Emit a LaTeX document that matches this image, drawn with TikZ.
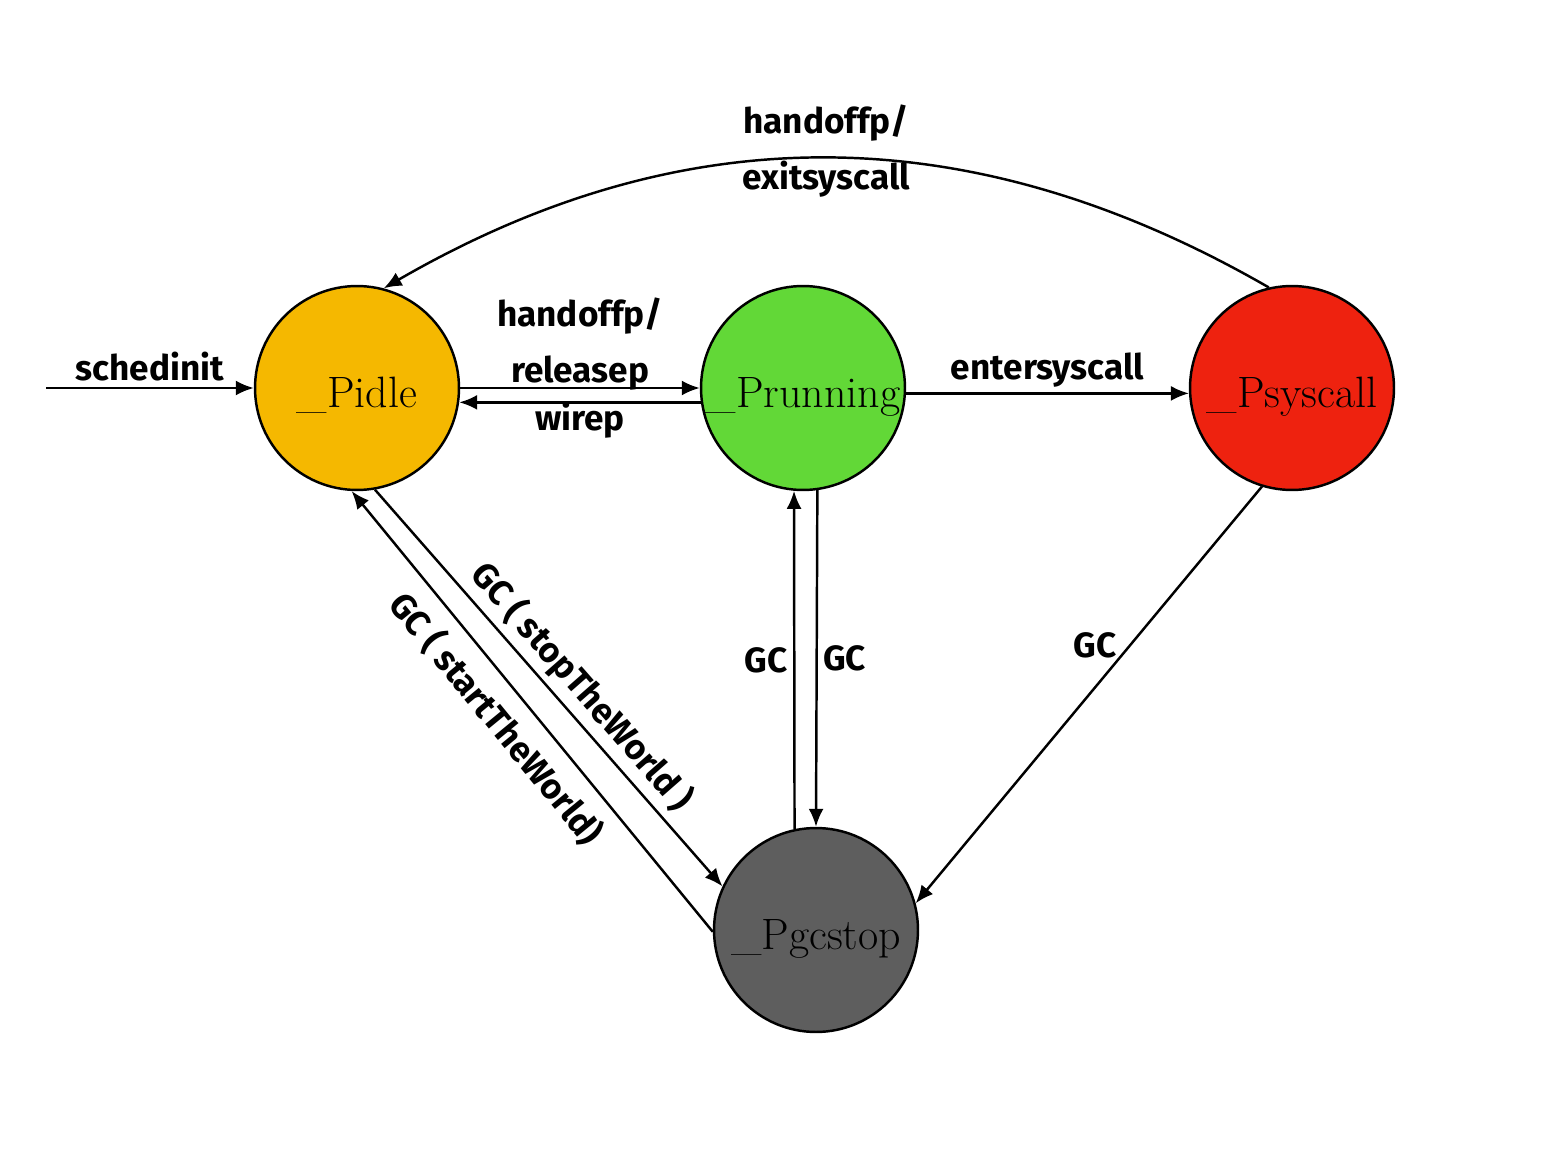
\documentclass[tikz,border=0pt]{standalone}
\usepackage{fontspec}
\usepackage{tikz}
\usetikzlibrary{arrows.meta}
\newfontfamily\labelfont{Fira Sans}

\definecolor{idlecol}{HTML}{F5B800}
\definecolor{runcol}{HTML}{62D837}
\definecolor{syscol}{HTML}{EE220F}
\definecolor{gccol}{HTML}{5E5E5E}

\begin{document}
\begin{tikzpicture}[x=0.02cm, y=-0.02cm,
            state/.style={circle, draw, line width=1.4pt, minimum size=4.08cm, inner sep=0pt, text height=22pt, text depth=0pt, font=\fontsize{25}{30}\selectfont},
            trans/.style={line width=1.4pt, -{Latex[length=3.6mm, width=3mm]}},
            lbl/.style={font=\labelfont\bfseries\fontsize{20}{32}\selectfont, align=center, inner sep=3pt}]
            \useasboundingbox (0, 0) rectangle (1552, 1152);

            %nodes
            \node[state, fill=idlecol] (pidle) at (357, 388) {\_Pidle};
            \node[state, fill=runcol] (prunning) at (803, 388) {\_Prunning};
            \node[state, fill=syscol] (psyscall) at (1292, 388) {\_Psyscall};
            \node[state, fill=gccol] (pgcstop) at (816, 930) {\_Pgcstop};
            \coordinate (start) at (46, 388);

            %edges
            \draw[trans] (start) -- (pidle) node[lbl, midway, above] {schedinit};
            \draw[trans] (pidle) -- (prunning) node[lbl, midway, above, yshift=-0.18cm] {handoffp/\\releasep};
            \draw[trans] (prunning.188) -- (pidle.352) node[lbl, midway, below, yshift=0.14cm] {wirep};
            \draw[trans] (prunning.-3) -- (psyscall.183) node[lbl, midway, above] {entersyscall};
            \draw[trans] (psyscall.103) to[bend right=30] node[lbl, midway, yshift=0.14cm] {handoffp/\\exitsyscall} (pidle.75);
            \draw[trans] (pidle.-80) -- (pgcstop.155) node[lbl, pos=0.54, above, sloped] {GC ( stopTheWorld )};
            \draw[trans] (pgcstop.181) -- (pidle.-93) node[lbl, pos=0.53, below=4.5pt, sloped] {GC ( startTheWorld)};
            \draw[trans] (pgcstop.102) -- (prunning.-95) node[lbl, midway, left] {GC};
            \draw[trans] (prunning.-82) -- (pgcstop.90) node[lbl, midway, right] {GC};
            \draw[trans] (psyscall.-107) -- (pgcstop.15) node[lbl, pos=0.38, left=4pt] {GC};
        \end{tikzpicture}
\end{document}
